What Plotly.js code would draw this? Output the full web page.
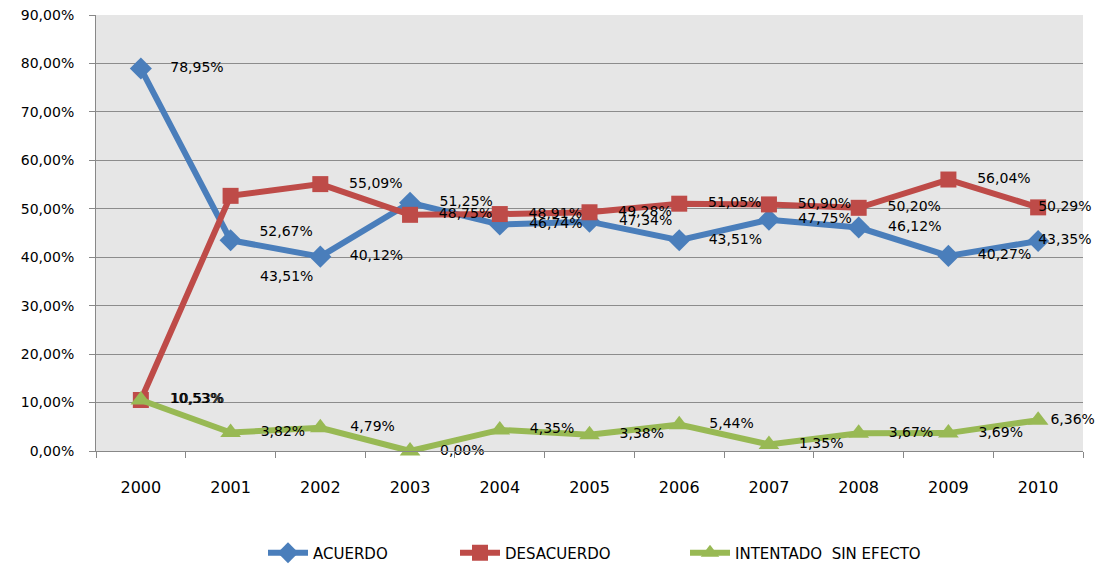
<!DOCTYPE html>
<html>
<head>
<meta charset="utf-8">
<script src="https://cdn.plot.ly/plotly-3.0.1.min.js"></script>
<style>html,body{margin:0;padding:0;background:#fff;}#chart{width:1106px;height:566px;}</style>
</head>
<body>
<div id="chart"></div>
<script>
const years = ['2000','2001','2002','2003','2004','2005','2006','2007','2008','2009','2010'];
const acuerdo = [78.95, 43.51, 40.12, 51.25, 46.74, 47.34, 43.51, 47.75, 46.12, 40.27, 43.35];
const desacuerdo = [10.53, 52.67, 55.09, 48.75, 48.91, 49.28, 51.05, 50.90, 50.20, 56.04, 50.29];
const intentado = [10.53, 3.82, 4.79, 0.00, 4.35, 3.38, 5.44, 1.35, 3.67, 3.69, 6.36];
const seriesNames = ['ACUERDO', 'DESACUERDO', 'INTENTADO  SIN EFECTO'];
const yTicks = [0,10,20,30,40,50,60,70,80,90];

const fmt = v => v.toFixed(2).replace('.', ',') + '%';
const nb = n => '\u00a0'.repeat(n);
const font = 'DejaVu Sans, sans-serif';
const last = years.length - 1;

// label placement styles (Excel-like)
function labelsFor(y, dropSecond, lastCenter) {
  const text = [], pos = [];
  y.forEach((v, i) => {
    if (i === last && lastCenter) { text.push(nb(12) + fmt(v)); pos.push('middle center'); }
    else if (i === last) { text.push(fmt(v)); pos.push('middle right'); }
    else if (i === 1 && dropSecond) { text.push('<br>' + nb(4) + fmt(v)); pos.push('bottom right'); }
    else { text.push(nb(4) + fmt(v)); pos.push('middle right'); }
  });
  return {text, pos};
}

function mk(name, y, color, symbol, msize, lbl, legendId) {
  return {
    type: 'scatter', mode: 'lines+markers+text', name: name,
    x: years, y: y,
    text: lbl.text, textposition: lbl.pos,
    textfont: {family: font, size: 14, color: '#000'},
    line: {color: color, width: 6},
    marker: {color: color, symbol: symbol, size: msize},
    cliponaxis: false, legend: legendId,
    hoverinfo: 'skip'
  };
}

const data = [
  mk(seriesNames[0], acuerdo, '#4a7ebb', 'diamond', 17, labelsFor(acuerdo, true, true), 'legend'),
  mk(seriesNames[1], desacuerdo, '#be4b48', 'square', 16, labelsFor(desacuerdo, true, true), 'legend2'),
  mk(seriesNames[2], intentado, '#98b954', 'triangle-up', 18, labelsFor(intentado, false, false), 'legend3')
];

const legBase = {orientation: 'h', xref: 'container', yref: 'container', y: 1 - 553/566,
                 xanchor: 'left', yanchor: 'middle',
                 font: {family: font, size: 15, color: '#000'}, itemwidth: 40, bgcolor: 'rgba(0,0,0,0)'};

const layout = {
  width: 1106, height: 566,
  margin: {l: 96, r: 23, t: 15, b: 115, autoexpand: false},
  paper_bgcolor: '#ffffff',
  plot_bgcolor: '#e6e6e6',
  showlegend: true,
  legend: Object.assign({}, legBase, {x: 263/1106}),
  legend2: Object.assign({}, legBase, {x: 455/1106}),
  legend3: Object.assign({}, legBase, {x: 685/1106}),
  xaxis: {
    type: 'category', range: [-0.5, 10.5], automargin: false,
    showgrid: false, zeroline: false,
    showline: true, linecolor: '#888', linewidth: 1,
    ticks: 'outside', tickson: 'boundaries', ticklen: 6, tickcolor: '#888',
    ticklabelstandoff: 22,
    tickfont: {family: font, size: 16, color: '#000'},
    fixedrange: true
  },
  yaxis: {
    range: [0, 90], tickvals: yTicks, automargin: false,
    ticktext: yTicks.map(v => fmt(v)),
    showgrid: true, gridcolor: '#8c8c8c', gridwidth: 1,
    zeroline: false, showline: true, linecolor: '#888', linewidth: 1,
    ticks: 'outside', ticklen: 6, tickcolor: '#888',
    ticklabelstandoff: 12,
    tickfont: {family: font, size: 14, color: '#000'},
    fixedrange: true
  }
};

Plotly.newPlot('chart', data, layout, {displayModeBar: false, staticPlot: true});
</script>
</body>
</html>
